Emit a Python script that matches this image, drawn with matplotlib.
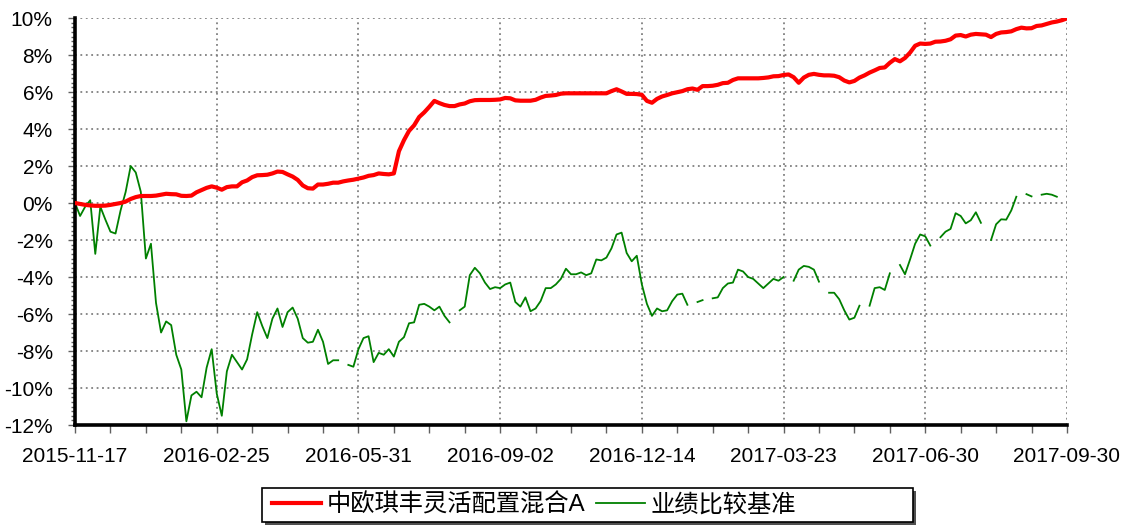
import numpy as np
import matplotlib
matplotlib.use("Agg")
import matplotlib.pyplot as plt
from matplotlib.patches import Rectangle
from matplotlib.ticker import FixedLocator, MultipleLocator, FuncFormatter

nan = np.nan

date_labels = ["2015-11-17", "2016-02-25", "2016-05-31", "2016-09-02",
               "2016-12-14", "2017-03-23", "2017-06-30", "2017-09-30"]

fund_name = "中欧琪丰灵活配置混合A"
bench_name = "业绩比较基准"

# cumulative return, %, one value every ~2 trading days
fund = [
    0, -0.05, -0.1, -0.13, -0.15, -0.15, -0.14, -0.1, -0.05, 0, 0.08, 0.22, 0.32, 0.38,
    0.38, 0.38, 0.4, 0.45, 0.5, 0.48, 0.47, 0.39, 0.38, 0.4, 0.58, 0.7, 0.82, 0.9,
    0.83, 0.72, 0.86, 0.9, 0.9, 1.12, 1.22, 1.4, 1.5, 1.51, 1.53, 1.6, 1.7, 1.68,
    1.55, 1.43, 1.25, 0.95, 0.8, 0.78, 1.0, 1.0, 1.04, 1.1, 1.1, 1.17, 1.22, 1.26,
    1.32, 1.38, 1.47, 1.51, 1.6, 1.57, 1.55, 1.6, 2.8, 3.4, 3.9, 4.2, 4.65, 4.9,
    5.2, 5.52, 5.4, 5.3, 5.24, 5.24, 5.33, 5.38, 5.5, 5.56, 5.57, 5.57, 5.57, 5.58,
    5.6, 5.68, 5.66, 5.55, 5.53, 5.53, 5.53, 5.58, 5.7, 5.79, 5.81, 5.84, 5.91, 5.93,
    5.93, 5.93, 5.93, 5.93, 5.93, 5.93, 5.93, 5.93, 6.05, 6.15, 6.03, 5.9, 5.9, 5.89,
    5.85, 5.52, 5.42, 5.63, 5.76, 5.84, 5.93, 5.99, 6.05, 6.15, 6.19, 6.12, 6.32, 6.32,
    6.34, 6.39, 6.48, 6.5, 6.65, 6.74, 6.74, 6.74, 6.74, 6.74, 6.76, 6.79, 6.85, 6.86,
    6.92, 6.95, 6.8, 6.5, 6.78, 6.93, 6.98, 6.93, 6.9, 6.9, 6.88, 6.8, 6.62, 6.52,
    6.6, 6.78, 6.9, 7.05, 7.17, 7.3, 7.33, 7.58, 7.78, 7.66, 7.84, 8.13, 8.5, 8.62,
    8.6, 8.62, 8.72, 8.73, 8.77, 8.85, 9.05, 9.08, 9.0, 9.1, 9.14, 9.12, 9.1, 8.97,
    9.14, 9.22, 9.24, 9.28, 9.4, 9.48, 9.44, 9.45, 9.57, 9.6, 9.68, 9.76, 9.81, 9.88,
    9.98,
]

bench = [
    0, -0.7, -0.2, 0.15, -2.75, -0.2, -0.9, -1.55, -1.65, -0.4, 0.6, 2.0, 1.65, 0.6,
    -3.0, -2.2, -5.4, -7.0, -6.4, -6.6, -8.2, -9.0, -11.8, -10.4, -10.2, -10.5, -8.9, -7.9,
    -10.3, -11.5, -9.1, -8.2, -8.6, -9.0, -8.45, -7.1, -5.9, -6.65, -7.3, -6.25, -5.7, -6.7,
    -5.9, -5.65, -6.25, -7.3, -7.55, -7.5, -6.85, -7.5, -8.7, -8.5, -8.5, nan, -8.75, -8.85,
    -7.9, -7.3, -7.2, -8.6, -8.1, -8.2, -7.9, -8.3, -7.5, -7.25, -6.5, -6.45, -5.5, -5.45,
    -5.6, -5.8, -5.6, -6.1, -6.45, nan, -5.8, -5.6, -3.9, -3.5, -3.8, -4.3, -4.65, -4.55,
    -4.6, -4.4, -4.3, -5.35, -5.6, -5.1, -5.85, -5.7, -5.3, -4.6, -4.6, -4.4, -4.1, -3.55,
    -3.85, -3.85, -3.75, -3.9, -3.8, -3.05, -3.1, -2.95, -2.45, -1.7, -1.6, -2.7, -3.15, -2.85,
    -4.4, -5.45, -6.1, -5.7, -5.85, -5.8, -5.3, -4.95, -4.9, -5.5, nan, -5.35, -5.25, nan,
    -5.15, -5.1, -4.6, -4.35, -4.3, -3.6, -3.7, -4.0, -4.1, -4.35, -4.6, -4.35, -4.1, -4.2,
    -4.0, nan, -4.2, -3.6, -3.4, -3.45, -3.6, -4.25, nan, -4.85, -4.85, -5.2, -5.8, -6.3,
    -6.2, -5.55, nan, -5.55, -4.6, -4.55, -4.7, -3.8, nan, -3.35, -3.85, -3.05, -2.2, -1.7,
    -1.8, -2.3, nan, -1.85, -1.55, -1.4, -0.55, -0.7, -1.1, -0.93, -0.5, -1.07, nan, -2.0,
    -1.15, -0.88, -0.9, -0.4, 0.34, nan, 0.48, 0.36, nan, 0.45, 0.5, 0.45, 0.34, nan,
    nan,
]

x = np.arange(len(fund))
n_last = len(fund) - 1
major = np.linspace(0, n_last, len(date_labels))

plt.rcParams["font.family"] = ["Liberation Sans", "Noto Sans CJK SC", "DejaVu Sans"]

W, H = 1125, 527
fig = plt.figure(figsize=(W / 100, H / 100), dpi=100)
ax = fig.add_axes([0.0667, 0.1935, 0.8817, 0.7723])

ax.plot(x, fund, color="#ff0000", lw=3.0, label=fund_name, zorder=3)
ax.plot(x, bench, color="#008000", lw=1.3, label=bench_name, zorder=2)

ax.set_xlim(0, n_last)
ax.set_ylim(-12, 10)

ax.xaxis.set_major_locator(FixedLocator(major))
ax.xaxis.set_minor_locator(FixedLocator(np.linspace(0, n_last, 4 * (len(date_labels) - 1) + 1)))
ax.set_xticklabels(date_labels)
ax.yaxis.set_major_locator(MultipleLocator(2))
ax.yaxis.set_minor_locator(MultipleLocator(0.25))
ax.yaxis.set_major_formatter(FuncFormatter(lambda v, p: f"{v:.0f}%"))

ax.grid(True, which="major", color="#808080", linestyle=(0, (1, 2)), linewidth=1.3)
ax.set_axisbelow(True)

for s in ("top", "right"):
    ax.spines[s].set_visible(False)
for s in ("left", "bottom"):
    ax.spines[s].set_linewidth(2.6)
    ax.spines[s].set_color("black")

ax.tick_params(axis="both", which="both", direction="out", color="#606060", width=1)
ax.tick_params(axis="x", which="both", length=6, labelsize=15, pad=10)
ax.tick_params(axis="y", which="major", length=5, labelsize=15, pad=11)
ax.tick_params(axis="y", which="minor", length=3)

# legend box: wider than its contents, with a dark drop shadow
bx, by, bw, bh = 262, 488, 651, 34
fig.patches.append(Rectangle(((bx + 3) / W, 1 - (by + bh + 3) / H), bw / W, bh / H,
                             transform=fig.transFigure, facecolor="#505050",
                             edgecolor="none", zorder=1))
fig.patches.append(Rectangle((bx / W, 1 - (by + bh) / H), bw / W, bh / H,
                             transform=fig.transFigure, facecolor="white",
                             edgecolor="black", linewidth=1.2, zorder=2))

leg = fig.legend(loc="center left", bbox_to_anchor=(272 / W, 1 - (by + bh / 2) / H),
                 ncol=2, fontsize=17.5, frameon=False, handlelength=2.0,
                 handletextpad=0.25, columnspacing=0.45, borderpad=0, borderaxespad=0)
leg.set_zorder(3)

fig.savefig("out.png", dpi=100, facecolor="white")
